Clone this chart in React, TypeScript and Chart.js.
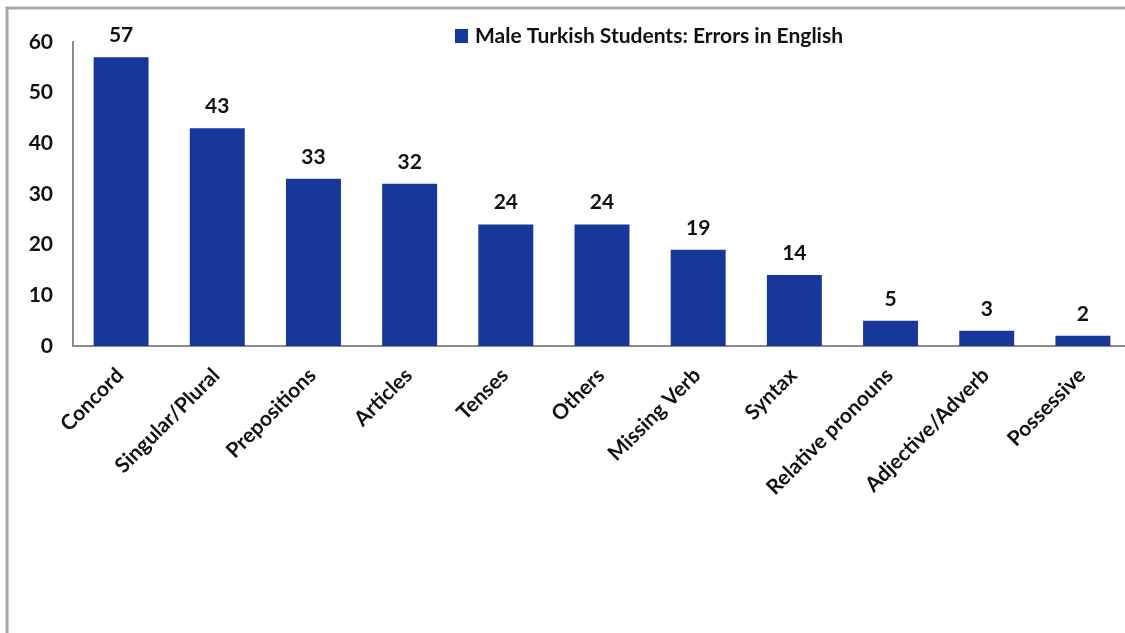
import React, { useEffect, useRef } from "react";
import { Chart, registerables } from "chart.js";

Chart.register(...registerables);

const categories = [
  "Concord",
  "Singular/Plural",
  "Prepositions",
  "Articles",
  "Tenses",
  "Others",
  "Missing Verb",
  "Syntax",
  "Relative pronouns",
  "Adjective/Adverb",
  "Possessive",
];
const errorCounts = [57, 43, 33, 32, 24, 24, 19, 14, 5, 3, 2];
const seriesLabel = "Male Turkish Students: Errors in English";
const yMin = 0;
const yMax = 60;
const yStep = 10;

const BAR_COLOR = "#17379b";
const TEXT_COLOR = "#111111";
const FONT_FAMILY = "Lato, 'Open Sans', sans-serif";
const W = 1131;
const H = 633;

export default function App() {
  const ref = useRef<HTMLCanvasElement | null>(null);

  useEffect(() => {
    if (!ref.current) return;

    const framePlugin = {
      id: "frame",
      beforeDraw(chart: any) {
        const ctx = chart.ctx;
        ctx.save();
        ctx.fillStyle = "#ffffff";
        ctx.fillRect(0, 0, chart.width, chart.height);
        ctx.strokeStyle = "#a8a8a8";
        ctx.lineWidth = 3;
        ctx.beginPath();
        ctx.moveTo(7, chart.height);
        ctx.lineTo(7, 8);
        ctx.lineTo(chart.width, 8);
        ctx.stroke();
        ctx.restore();
      },
    };

    const valueLabels = {
      id: "valueLabels",
      afterDatasetsDraw(chart: any) {
        const ctx = chart.ctx;
        const meta = chart.getDatasetMeta(0);
        const data = chart.data.datasets[0].data;
        ctx.save();
        ctx.fillStyle = TEXT_COLOR;
        ctx.font = `bold 21px ${FONT_FAMILY}`;
        ctx.textAlign = "center";
        ctx.textBaseline = "alphabetic";
        meta.data.forEach((el: any, i: number) => {
          ctx.fillText(String(data[i]), el.x, el.y - 15);
        });
        ctx.restore();
      },
    };

    const legendPlugin = {
      id: "customLegend",
      afterDraw(chart: any) {
        const ctx = chart.ctx;
        const ds = chart.data.datasets[0];
        ctx.save();
        ctx.fillStyle = ds.backgroundColor;
        ctx.fillRect(455, 29, 13, 14);
        ctx.fillStyle = TEXT_COLOR;
        ctx.font = `bold 21px ${FONT_FAMILY}`;
        ctx.textAlign = "left";
        ctx.textBaseline = "alphabetic";
        ctx.fillText(ds.label, 475, 43);
        ctx.restore();
      },
    };

    const chart = new Chart(ref.current, {
      type: "bar",
      data: {
        labels: categories,
        datasets: [
          {
            label: seriesLabel,
            data: errorCounts,
            backgroundColor: BAR_COLOR,
            barPercentage: 0.5714,
            categoryPercentage: 1,
          },
        ],
      },
      options: {
        responsive: false,
        animation: false,
        devicePixelRatio: 1,
        layout: { padding: { top: 42, left: 0, right: 0, bottom: 0 } },
        plugins: {
          legend: { display: false },
          tooltip: { enabled: false },
        },
        scales: {
          x: {
            grid: { display: false, drawTicks: false },
            border: { display: true, color: "#8a8a8a", width: 2 },
            ticks: {
              color: TEXT_COLOR,
              font: { family: FONT_FAMILY, size: 21, weight: "bold" },
              minRotation: 45,
              maxRotation: 45,
              autoSkip: false,
              padding: 17,
              labelOffset: -1,
            },
            afterFit(scale: any) {
              scale.height = H - 346;
            },
          },
          y: {
            min: yMin,
            max: yMax,
            grid: { display: false, drawTicks: false },
            border: { display: true, color: "#8a8a8a", width: 2 },
            ticks: {
              stepSize: yStep,
              color: TEXT_COLOR,
              font: { family: FONT_FAMILY, size: 21, weight: "bold" },
              padding: 20,
            },
            afterFit(scale: any) {
              scale.width = 73;
            },
          },
        },
      },
      plugins: [framePlugin, valueLabels, legendPlugin],
    });

    return () => chart.destroy();
  }, []);

  return (
    <div
      style={{
        position: "fixed",
        left: 0,
        top: 0,
        width: 1125,
        height: H,
        overflow: "hidden",
        background: "#ffffff",
      }}
    >
      <canvas ref={ref} width={W} height={H} style={{ display: "block" }} />
    </div>
  );
}
